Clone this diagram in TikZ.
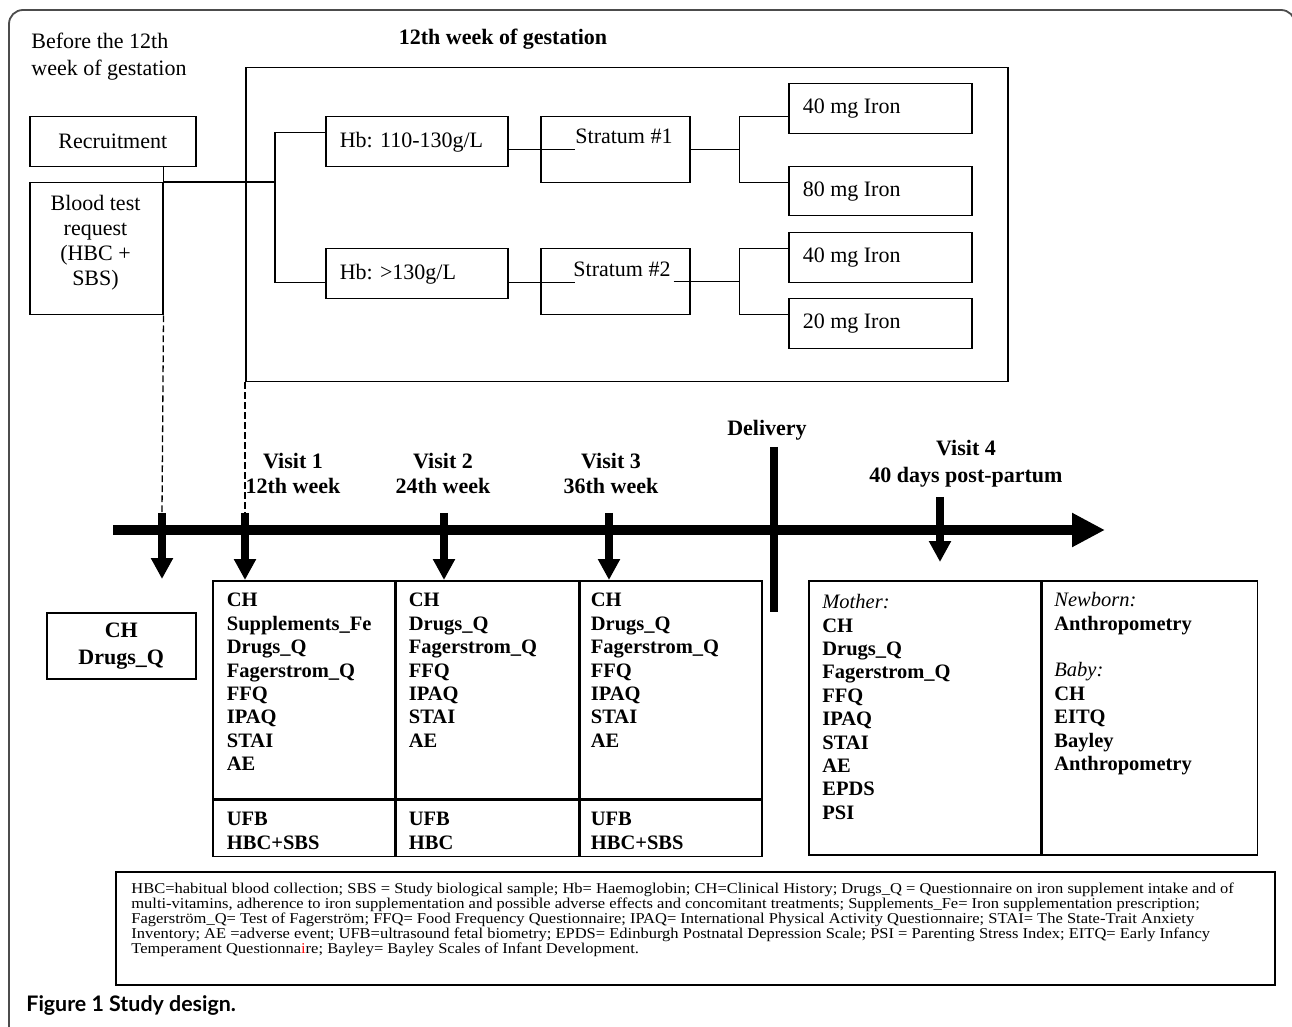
\documentclass[tikz,border=0pt]{standalone}
\usepackage{fontspec}
\setmainfont{Liberation Serif}
\newfontfamily\capfont{Lato}
\newfontfamily\notefont{Liberation Serif}[FakeStretch=1.10]
\usetikzlibrary{arrows.meta}
\newcommand{\bigfs}{\fontsize{11}{13.4}\selectfont}
\newcommand{\lstfs}{\fontsize{10.25}{11.7}\selectfont}
\newcommand{\notefs}{\notefont\fontsize{7.5}{7.5}\selectfont}

\begin{document}
\begin{tikzpicture}[x=0.5pt,y=-0.5pt,
  box/.style={draw,line width=0.75pt,inner sep=0pt,anchor=north west},
  lbox/.style={box,inner xsep=7pt,text width=#1,align=flush left,font=\bigfs},
  wire/.style={line width=0.6pt},
  dashline/.style={line width=0.65pt,dash pattern=on 3.3pt off 1.7pt},
  tick/.style={line width=3.7pt,-{Triangle[width=10.5pt,length=10.5pt]}},
  lst/.style={font=\lstfs\bfseries,inner sep=0pt,align=flush left,anchor=north west},
  hd/.style={font=\bigfs\bfseries,inner sep=0pt,align=flush center},
  txt/.style={font=\bigfs,inner sep=0pt}]
  \useasboundingbox (0,0) rectangle (1292,1027);
  \clip (0,0) rectangle (1292,1027);

  %outer frame
  \draw[line width=0.9pt,black!70,rounded corners=7pt] (9,1030) -- (9,10) -- (1295,10) -- (1295,60);

  %headings
  \node[txt,align=flush left,anchor=north west] (before) at (31,33) {Before the 12th\\week of gestation};
  \node[hd,anchor=base] (gesttitle) at (503,45) {12th week of gestation};

  %recruitment and blood test
  \node[box,minimum width=83pt,minimum height=25pt,font=\bigfs] (recr) at (29,116) {Recruitment};
  \node[box,minimum width=66.5pt,minimum height=66pt] (blood) at (29,182) {};
  \node[txt,align=flush center,anchor=north,font=\fontsize{11}{12.5}\selectfont] (bloodtxt) at (95.5,195) {Blood test\\request\\(HBC +\\SBS)};

  %12th week box
  \node[box,minimum width=381pt,minimum height=157pt] (gest) at (245,67) {};
  \node[lbox=77pt,minimum height=25pt] (hb1) at (325,116) {Hb: 110-130g/L};
  \node[lbox=77pt,minimum height=25pt] (hb2) at (325,248) {Hb: >130g/L};
  \node[box,minimum width=74.5pt,minimum height=33pt] (str1) at (540,116) {};
  \node[box,minimum width=74.5pt,minimum height=33pt] (str2) at (540,248) {};
  \node[txt,anchor=base west] (s1lbl) at (575,144) {Stratum \#1};
  \node[txt,anchor=base west] (s2lbl) at (573,277) {Stratum \#2};
  \node[lbox=77.5pt,minimum height=25pt] (io1) at (788,83) {40 mg Iron};
  \node[lbox=77.5pt,minimum height=24.5pt] (io2) at (788,166) {80 mg Iron};
  \node[lbox=77.5pt,minimum height=25pt] (io3) at (788,232) {40 mg Iron};
  \node[lbox=77.5pt,minimum height=25pt] (io4) at (788,298) {20 mg Iron};

  %branches
  \coordinate (br0) at (275,182);
  \draw[wire] (recr.south -| blood.east) -- (blood.north east) -- (br0);
  \draw[wire] ([yshift=4.5pt]hb1.west) -| (br0) |- ([yshift=-4.5pt]hb2.west);
  \draw[wire] ([yshift=-4pt]hb1.east) -- ++(66,0);
  \draw[wire] ([yshift=-4.5pt]hb2.east) -- ++(66,0);
  \draw[wire] (str1.east) -- ++(49,0) coordinate (br1);
  \draw[wire] ([yshift=-4pt]io1.west) -| (br1) |- ([yshift=4.25pt]io2.west);
  \draw[wire] ([xshift=-8.5pt]str2.east) -- ++(66,0) coordinate (br2);
  \draw[wire] ([yshift=4.5pt]io3.west) -| (br2) |- ([yshift=4.5pt]io4.west);

  %timeline
  \coordinate (t0) at (113,530);
  \coordinate (t1) at (1105,530);
  \draw[line width=5.4pt,-{Triangle[width=16pt,length=16.5pt]}] (t0) -- (t1);
  \coordinate (d0) at (774,447);
  \coordinate (d1) at (774,612);
  \draw[line width=3.8pt] (d0) -- (d1);
  \node[hd,anchor=base] (deliv) at (767,436) {Delivery};
  \node[hd,anchor=north,font=\fontsize{11}{12.5}\selectfont\bfseries] (vis1) at (293,453) {Visit 1\\12th week};
  \node[hd,anchor=north,font=\fontsize{11}{12.5}\selectfont\bfseries] (vis2) at (443,453) {Visit 2\\24th week};
  \node[hd,anchor=north,font=\fontsize{11}{12.5}\selectfont\bfseries] (vis3) at (611,453) {Visit 3\\36th week};
  \node[hd,anchor=north,font=\fontsize{11}{13.35}\selectfont\bfseries] (vis4) at (966,440) {Visit 4\\40 days post-partum};

  %visit tables
  \node[box,minimum width=74.5pt,minimum height=33pt,align=flush center,font=\fontsize{11}{13.5}\selectfont\bfseries] (pre) at (46,612) {CH\\Drugs\_Q};
  \node[box,minimum width=91pt,minimum height=109pt] (v1) at (212,580) {};
  \node[box,minimum width=91pt,minimum height=109pt] (v2) at (v1.north east) {};
  \node[box,minimum width=91pt,minimum height=109pt] (v3) at (v2.north east) {};
  \node[box,minimum width=91pt,minimum height=28pt] (v1b) at (v1.south west) {};
  \node[box,minimum width=91pt,minimum height=28pt] (v2b) at (v2.south west) {};
  \node[box,minimum width=91pt,minimum height=28pt] (v3b) at (v3.south west) {};
  \node[lst] (l1) at (226.5,593) {CH\\Supplements\_Fe\\Drugs\_Q\\Fagerstrom\_Q\\FFQ\\IPAQ\\STAI\\AE};
  \node[lst] (l2) at (408.5,593) {CH\\Drugs\_Q\\Fagerstrom\_Q\\FFQ\\IPAQ\\STAI\\AE};
  \node[lst] (l3) at (590.5,593) {CH\\Drugs\_Q\\Fagerstrom\_Q\\FFQ\\IPAQ\\STAI\\AE};
  \node[lst] (l1b) at (226.5,812) {UFB\\HBC+SBS};
  \node[lst] (l2b) at (408.5,812) {UFB\\HBC};
  \node[lst] (l3b) at (590.5,812) {UFB\\HBC+SBS};
  \node[box,minimum width=116pt,minimum height=137pt] (m4) at (808,580) {};
  \node[box,minimum width=107.5pt,minimum height=137pt] (n4) at (m4.north east) {};
  \node[lst] (mlist) at (822,594) {{\mdseries\itshape Mother:}\\CH\\Drugs\_Q\\Fagerstrom\_Q\\FFQ\\IPAQ\\STAI\\AE\\EPDS\\PSI};
  \node[lst] (nlist) at (1054,592) {{\mdseries\itshape Newborn:}\\Anthropometry\\[11.7pt]{\mdseries\itshape Baby:}\\CH\\EITQ\\Bayley\\Anthropometry};

  %arrows to the visits
  \coordinate (a0) at (162,513);
  \coordinate (a1) at (245,513);
  \coordinate (a2) at (444,513);
  \coordinate (a3) at (609,513);
  \coordinate (a4) at (940,497);
  \draw[dashline] (blood.south east) -- (a0);
  \draw[dashline] (gest.south west) -- (a1);
  \draw[tick] (a0) -- ++(0,66);
  \foreach \a/\c in {a1/v1,a2/v2,a3/v3}
    \draw[tick] (\a) -- (\a |- \c.north);
  \draw[tick] (a4) -- ++(0,65);

  %abbreviations
  \node[box,minimum width=579.5pt,minimum height=56.5pt] (note) at (115,871) {};
  \node[inner sep=0pt,anchor=north west,align=flush left,font=\notefs] (notetxt) at (131,883) {HBC=habitual blood collection; SBS = Study biological sample; Hb= Haemoglobin; CH=Clinical History; Drugs\_Q = Questionnaire on iron supplement intake and of\\
    multi-vitamins, adherence to iron supplementation and possible adverse effects and concomitant treatments; Supplements\_Fe= Iron supplementation prescription;\\
    Fagerström\_Q= Test of Fagerström; FFQ= Food Frequency Questionnaire; IPAQ= International Physical Activity Questionnaire; STAI= The State-Trait Anxiety\\
    Inventory; AE =adverse event; UFB=ultrasound fetal biometry; EPDS= Edinburgh Postnatal Depression Scale; PSI = Parenting Stress Index; EITQ= Early Infancy\\
    Temperament Questionna\textcolor{red}{i}re; Bayley= Bayley Scales of Infant Development.};
  \node[inner sep=0pt,anchor=base west,font=\capfont\bfseries\fontsize{10.7}{12}\selectfont] (cap) at (26,1011.7) {Figure 1 Study design.};
\end{tikzpicture}
\end{document}
